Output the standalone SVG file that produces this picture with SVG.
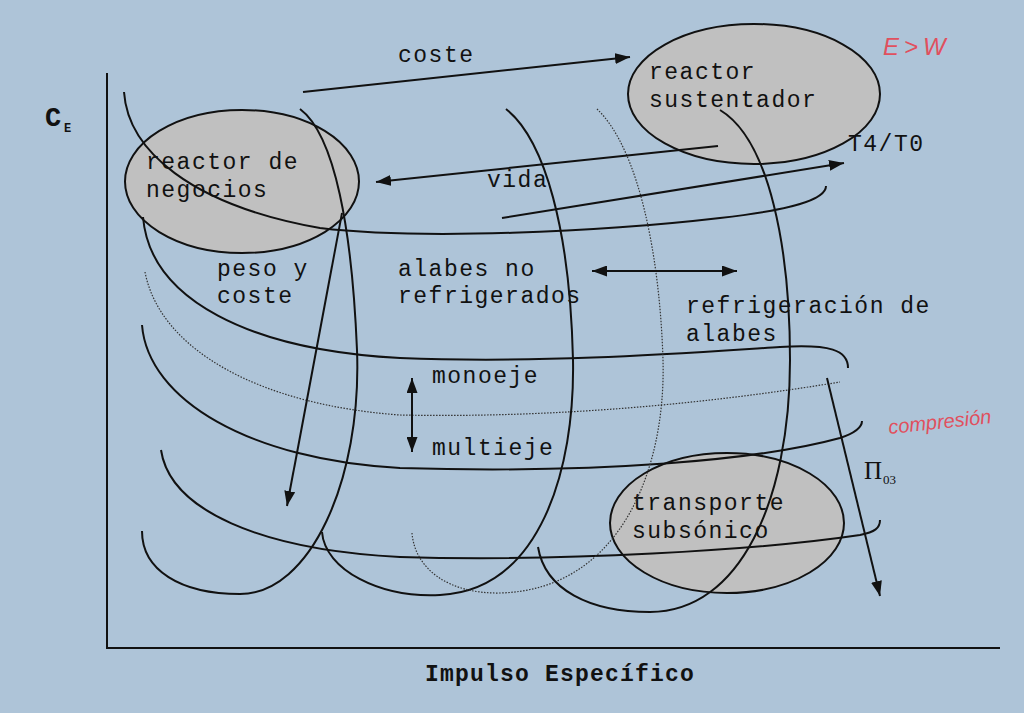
<svg xmlns="http://www.w3.org/2000/svg" width="1024" height="713" viewBox="0 0 1024 713">
<style>
.t{font-family:"Liberation Mono","DejaVu Sans Mono",monospace;font-size:23px;letter-spacing:1.5px;fill:#111}
.c{fill:none;stroke:#111;stroke-width:2}
.d{fill:none;stroke:#333;stroke-width:1.2;stroke-dasharray:1.5 1.5}
.a{fill:none;stroke:#111;stroke-width:2}
.e{fill:#c0c0c0;stroke:#111;stroke-width:2}
.h{font-family:"Liberation Sans",sans-serif;fill:#e0505e;font-style:italic}
</style>
<defs>
<marker id="ah" viewBox="0 0 15 11" refX="15" refY="5.5" markerWidth="15" markerHeight="11" markerUnits="userSpaceOnUse" orient="auto-start-reverse">
<path d="M0,0 L15,5.5 L0,11 z" fill="#111"/>
</marker>
</defs>
<rect width="1024" height="713" fill="#aec4d8"/>
<g id="axes">
<line x1="107" y1="73" x2="107" y2="648" stroke="#111" stroke-width="2"/>
<line x1="106" y1="648" x2="1000" y2="648" stroke="#111" stroke-width="2"/>
<text x="45" y="126" style="font-family:'Liberation Mono',monospace;font-weight:bold;font-size:27px;fill:#111">C</text>
<text x="64" y="132" style="font-family:'Liberation Mono',monospace;font-weight:bold;font-size:12px;fill:#111">E</text>
<text x="425" y="681" style="font-family:'Liberation Mono',monospace;font-weight:bold;font-size:23px;letter-spacing:1.2px;fill:#111">Impulso Específico</text>
</g>
<g id="node-negocios">
<ellipse class="e" cx="242" cy="181.5" rx="117" ry="71.5"/>
<text class="t" x="146" y="169">reactor de</text>
<text class="t" x="146" y="197">negocios</text>
</g>
<g id="node-sustentador">
<ellipse class="e" cx="754" cy="94" rx="126" ry="70"/>
<text class="t" x="649" y="79">reactor</text>
<text class="t" x="649" y="107">sustentador</text>
</g>
<g id="node-transporte">
<ellipse class="e" cx="727" cy="523" rx="117" ry="70"/>
<text class="t" x="632" y="510">transporte</text>
<text class="t" x="632" y="538">subsónico</text>
</g>
<g id="connectors">
<path class="c" d="M124,92 C128,150 190,205 320,228 C420,240 600,232 720,218 C790,210 826,200 826,186"/>
<path class="c" d="M143,217 C150,300 250,350 400,358 C550,364 700,352 780,347 C830,344 848,350 848,368"/>
<path class="d" d="M145,272 C160,350 260,405 400,415 C550,418 700,405 840,382"/>
<path class="c" d="M142,325 C148,400 250,460 400,468 C600,474 760,460 840,438 C855,433 862,428 862,421"/>
<path class="c" d="M161,450 C170,510 260,550 400,557 C560,562 760,550 860,535 C875,532 880,528 880,520"/>
<path class="c" d="M300,109 C335,135 352,230 357,350 C362,480 310,594 240,594 C180,594 142,570 142,531"/>
<path class="c" d="M506,109 C545,140 570,230 573,360 C575,470 540,590 440,595 C380,598 325,570 322,532"/>
<path class="d" d="M597,109 C640,150 660,260 663,360 C666,470 620,590 500,593 C450,594 415,570 412,533"/>
<path class="c" d="M720,110 C770,140 790,250 790,360 C790,500 740,612 650,612 C590,612 545,590 538,547"/>
<line class="a" x1="303" y1="92" x2="630" y2="57" marker-end="url(#ah)"/>
<line class="a" x1="718" y1="146" x2="376" y2="182" marker-end="url(#ah)"/>
<line class="a" x1="502" y1="218" x2="844" y2="163" marker-end="url(#ah)"/>
<line class="a" x1="592" y1="271" x2="737" y2="271" marker-start="url(#ah)" marker-end="url(#ah)"/>
<line class="a" x1="412" y1="378" x2="412" y2="452" marker-start="url(#ah)" marker-end="url(#ah)"/>
<line class="a" x1="342" y1="213" x2="287" y2="506" marker-end="url(#ah)"/>
<line class="a" x1="827" y1="378" x2="880" y2="596" marker-end="url(#ah)"/>
</g>
<g id="labels">
<text class="t" x="398" y="62">coste</text>
<text class="t" x="848" y="151">T4/T0</text>
<text class="t" x="487" y="187">vida</text>
<text class="t" x="217" y="276">peso y</text>
<text class="t" x="217" y="303">coste</text>
<text class="t" x="398" y="276">alabes no</text>
<text class="t" x="398" y="303">refrigerados</text>
<text class="t" x="686" y="313">refrigeración de</text>
<text class="t" x="686" y="341">alabes</text>
<text class="t" x="432" y="383">monoeje</text>
<text class="t" x="432" y="455">multieje</text>
<text x="864" y="479" style="font-family:'Liberation Serif',serif;font-size:25px;fill:#111">Π</text>
<text x="883" y="484" style="font-family:'Liberation Serif',serif;font-size:13px;fill:#111">03</text>
<text class="h" x="883" y="55" style="font-size:24px;letter-spacing:5px">E&gt;W</text>
<text class="h" x="889" y="434" style="font-size:20px" transform="rotate(-6 889 434)">compresión</text>
</g>
</svg>
